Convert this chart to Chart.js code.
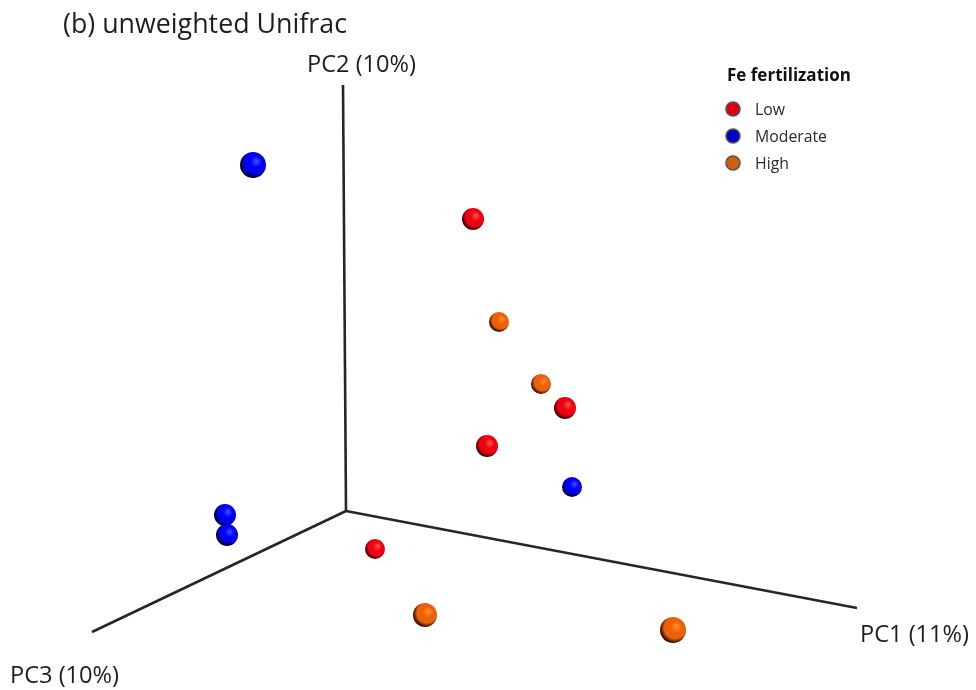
<!DOCTYPE html>
<html>
<head>
<meta charset="utf-8">
<title>(b) unweighted Unifrac</title>
<script src="https://cdn.jsdelivr.net/npm/chart.js@4/dist/chart.umd.min.js"></script>
<style>
  html, body { margin: 0; padding: 0; background: #ffffff; }
  #wrap { width: 976px; height: 690px; }
</style>
</head>
<body>
<div id="wrap"><canvas id="pcoa" width="976" height="690"></canvas></div>
<script>
// Projected PCoA ordination (3D view flattened onto the page plane).
// Each sample: [horizontal, vertical] position in the projected frame,
// with the axis origin at (0, 0).
const groups = ["Low", "Moderate", "High"];

const lowPoints = [
  [1.27, 2.92], [2.19, 1.03], [1.41, 0.65], [0.29, -0.38]
];
const moderatePoints = [
  [-0.93, 3.46], [2.26, 0.24], [-1.21, -0.04], [-1.19, -0.24]
];
const highPoints = [
  [1.53, 1.89], [1.95, 1.27], [0.79, -1.04], [3.27, -1.19]
];

// Far ends of the three principal-coordinate axes in the projected frame.
const axisNames = ["PC1 (11%)", "PC2 (10%)", "PC3 (10%)"];
const axisEnds = [[5.11, -0.97], [-0.03, 4.26], [-2.54, -1.21]];

// Sphere radii (perspective: nearer samples look bigger).
const lowRadius = [11, 11, 11, 10];
const moderateRadius = [13, 10, 11, 11];
const highRadius = [10, 10, 12, 13];

const palette = {
  Low:      { base: "#ee0010", light: "#ff5a4a", dark: "#6a0006", flat: "#dc0012" },
  Moderate: { base: "#0000f4", light: "#4050ff", dark: "#00004a", flat: "#0000c8" },
  High:     { base: "#ec6008", light: "#ff9032", dark: "#5a2000", flat: "#d0600e" }
};

// Shaded sphere sprites, cached per colour and radius.
// Light comes from the upper right, so the rim darkens towards the lower left.
const spriteCache = {};
function sphere(group, r) {
  const key = group + ":" + r;
  if (spriteCache[key]) return spriteCache[key];
  const c = palette[group];
  const size = Math.ceil(r * 2 + 2);
  const cv = document.createElement("canvas");
  cv.width = size; cv.height = size;
  const g = cv.getContext("2d");
  const cx = size / 2, cy = size / 2;
  const grad = g.createRadialGradient(
    cx + r * 0.3, cy - r * 0.32, 0,
    cx + r * 0.12, cy - r * 0.12, r * 1.2
  );
  grad.addColorStop(0, c.light);
  grad.addColorStop(0.38, c.base);
  grad.addColorStop(0.7, c.base);
  grad.addColorStop(0.87, c.dark);
  grad.addColorStop(1, "#0c0c0c");
  g.fillStyle = grad;
  g.beginPath();
  g.arc(cx, cy, r, 0, Math.PI * 2);
  g.fill();
  spriteCache[key] = cv;
  return cv;
}

function toXY(list) { return list.map(p => ({ x: p[0], y: p[1] })); }

function sampleSet(label, pts, radii) {
  return {
    label: label,
    data: toXY(pts),
    pointStyle: ctx => sphere(label, radii[ctx.dataIndex] || 10),
    pointRadius: ctx => radii[ctx.dataIndex] || 10,
    pointHoverRadius: ctx => radii[ctx.dataIndex] || 10,
    backgroundColor: palette[label].base,
    borderColor: palette[label].dark,
    showLine: false,
    order: 1
  };
}

function axisSet(i) {
  return {
    label: axisNames[i],
    data: [{ x: 0, y: 0 }, { x: axisEnds[i][0], y: axisEnds[i][1] }],
    showLine: true,
    borderColor: "#262626",
    borderWidth: 2.6,
    pointRadius: 0,
    pointHoverRadius: 0,
    fill: false,
    order: 5
  };
}

const FONT = "'Open Sans', Lato, sans-serif";

// Draw text sized so that it spans the requested width.
function fitText(ctx, text, x, y, width, weight, base) {
  ctx.font = weight + " " + base + "px " + FONT;
  const w = ctx.measureText(text).width;
  const size = base * width / w;
  ctx.font = weight + " " + size.toFixed(2) + "px " + FONT;
  ctx.fillText(text, x, y);
}

// Labels for the title, axis names and the group key.
const textPlugin = {
  id: "pcoaText",
  afterDraw(chart) {
    const ctx = chart.ctx;
    const xs = chart.scales.x, ys = chart.scales.y;
    ctx.save();
    ctx.textBaseline = "alphabetic";
    ctx.textAlign = "left";
    ctx.fillStyle = "#1e1e1e";

    fitText(ctx, "(b) unweighted Unifrac", 63, 33, 284, "normal", 24);

    // Axis names placed next to each axis end.
    const offsets = [[3, 34], [-36, -13], [-82, 51]];
    axisEnds.forEach((e, i) => {
      const px = xs.getPixelForValue(e[0]) + offsets[i][0];
      const py = ys.getPixelForValue(e[1]) + offsets[i][1];
      fitText(ctx, axisNames[i], px, py, 109, "normal", 20);
    });

    // Group key
    ctx.fillStyle = "#111111";
    fitText(ctx, "Fe fertilization", 727, 81, 124, "bold", 15);
    ctx.font = "15px " + FONT;
    const rowY = [109, 136, 163];
    const labelSize = 15 * 72 / ctx.measureText("Moderate").width;
    groups.forEach((grp, i) => {
      ctx.beginPath();
      ctx.arc(733, rowY[i], 7, 0, Math.PI * 2);
      ctx.fillStyle = palette[grp].flat;
      ctx.fill();
      ctx.lineWidth = 1.6;
      ctx.strokeStyle = "#555555";
      ctx.stroke();
      ctx.fillStyle = "#2a2a2a";
      ctx.font = labelSize.toFixed(2) + "px " + FONT;
      ctx.fillText(grp, 755, rowY[i] + 6);
    });
    ctx.restore();
  }
};

new Chart(document.getElementById("pcoa"), {
  type: "scatter",
  data: {
    datasets: [
      axisSet(0), axisSet(1), axisSet(2),
      sampleSet("Low", lowPoints, lowRadius),
      sampleSet("Moderate", moderatePoints, moderateRadius),
      sampleSet("High", highPoints, highRadius)
    ]
  },
  options: {
    responsive: false,
    animation: false,
    layout: { padding: 0, autoPadding: false },
    scales: {
      x: { type: "linear", display: false, min: -3.46, max: 6.30 },
      y: { type: "linear", display: false, min: -1.79, max: 5.11 }
    },
    plugins: {
      legend: { display: false },
      title: { display: false },
      tooltip: { enabled: true }
    }
  },
  plugins: [textPlugin]
});
</script>
</body>
</html>
